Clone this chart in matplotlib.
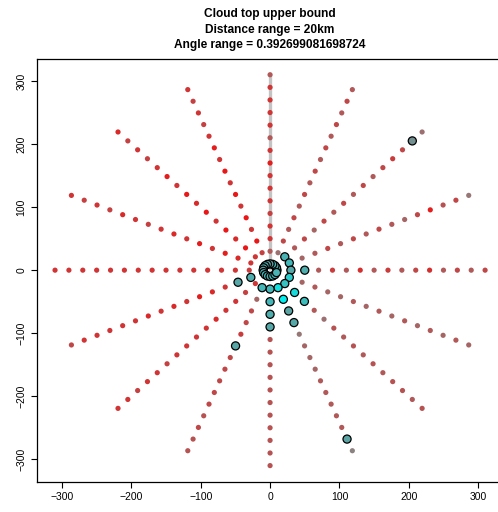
import numpy as np
import matplotlib.pyplot as plt
from matplotlib.colors import LinearSegmentedColormap

# ray directions (degrees) and sample distances (km)
ray_angles = [0, 22.5, 45, 67.5, 90, 112.5, 135, 157.5,
              180, 202.5, 225, 247.5, 270, 292.5, 315, 337.5]
distances = [10, 30, 50, 70, 90, 110, 130, 150, 170, 190, 210, 230, 250, 270, 290, 310]

# shade of each sample along a ray: 0 = red, 1 = grey (inner -> outer)
shade_000 = [0.5, 0.6, 0.6, 0.6, 0.35, 0.6, 0.25, 0.6, 0.35, 0.6, 0.45, 0.25, 0.6, 0.45, 0.6, 0.45]
shade_022 = [0.5, 0.6, 0.7, 0.6, 0.45, 0.6, 0.45, 0.6, 0.45, 0.6, 0.7, 0.45, 0.1, 0.55, 0.45, 0.85]
shade_045 = [0.5, 0.6, 0.6, 0.45, 0.7, 0.45, 0.6, 0.45, 0.6, 0.45, 0.6, 0.45, 0.35, 0.45, 0.6, 0.8]
shade_068 = [0.5, 0.8, 0.45, 0.6, 0.45, 0.6, 0.45, 0.6, 0.45, 0.6, 0.45, 0.6, 0.45, 0.6, 0.45, 0.6]
shade_090 = [0.5, 0.6, 0.3, 0.3, 0.4, 0.3, 0.3, 0.3, 0.1, 0.3, 0.6, 0.3, 0.3, 0.3, 0.3, 0.6]
shade_112 = [0.5, 0.4, 0.05, 0.3, 0.05, 0.3, 0.05, 0.3, 0.05, 0.3, 0.1, 0.3, 0.4, 0.3, 0.4, 0.3]
shade_135 = [0.5, 0.3, 0.05, 0.2, 0.05, 0.3, 0.05, 0.2, 0.05, 0.3, 0.1, 0.3, 0.4, 0.3, 0.4, 0.2]
shade_158 = [0.5, 0.3, 0.2, 0.1, 0.3, 0.1, 0.3, 0.2, 0.3, 0.4, 0.3, 0.2, 0.4, 0.3, 0.4, 0.3]
shade_180 = [0.5, 0.35, 0.3, 0.3, 0.3, 0.3, 0.3, 0.3, 0.3, 0.3, 0.3, 0.3, 0.3, 0.3, 0.3, 0.3]
shade_202 = [0.5, 0.6, 0.6, 0.3, 0.2, 0.1, 0.3, 0.2, 0.3, 0.2, 0.3, 0.3, 0.3, 0.3, 0.3, 0.45]
shade_225 = [0.5, 0.3, 0.4, 0.3, 0.3, 0.2, 0.3, 0.3, 0.3, 0.3, 0.4, 0.3, 0.3, 0.4, 0.3, 0.3]
shade_248 = [0.5, 0.6, 0.7, 0.45, 0.45, 0.35, 0.6, 0.45, 0.45, 0.45, 0.45, 0.45, 0.55, 0.45, 0.55, 0.55]
shade_270 = [0.5, 0.6, 0.6, 0.6, 0.6, 0.55, 0.55, 0.55, 0.55, 0.55, 0.55, 0.55, 0.55, 0.55, 0.55, 0.55]
shade_292 = [0.5, 0.6, 0.6, 0.6, 0.6, 0.85, 0.7, 0.7, 0.7, 0.6, 0.6, 0.6, 0.6, 0.6, 0.6, 0.95]
shade_315 = [0.5, 0.6, 0.6, 0.6, 0.6, 0.8, 0.55, 0.6, 0.55, 0.6, 0.55, 0.6, 0.55, 0.55, 0.6, 0.55]
shade_338 = [0.5, 0.6, 0.7, 0.6, 0.7, 0.7, 0.6, 0.7, 0.6, 0.7, 0.6, 0.7, 0.6, 0.7, 0.6, 0.7]

# highlighted samples (ray index, distance, shade 0 = cyan, 1 = grey)
hl_ray = [0, 1, 2, 3, 4, 5, 6, 7, 8, 9, 10, 11, 12, 13, 14, 15,
          2, 1, 0, 0, 15, 14, 13, 12, 11, 9, 9, 14, 13, 12, 14, 13, 12, 13, 12, 11, 2, 13]
hl_dist = [10, 10, 10, 10, 10, 10, 10, 10, 10, 10, 10, 10, 10, 10, 10, 10,
           30, 30, 30, 50, 30, 30, 30, 30, 30, 30, 50, 50, 50, 50, 70, 70, 70, 90, 90, 130, 290, 290]
hl_shade = [0.6, 0.5, 0.7, 0.6, 0.8, 0.7, 0.6, 0.7, 0.8, 0.6, 0.5, 0.6, 0.7, 0.4, 0.5, 0.6,
            0.6, 0.55, 0.7, 0.65, 0.35, 0.45, 0.15, 0.55, 0.55, 0.65, 0.7, 0.2, 0.0, 0.55, 0.5,
            0.75, 0.65, 0.7, 0.7, 0.7, 0.95, 0.75]

shades = [shade_000, shade_022, shade_045, shade_068, shade_090, shade_112, shade_135, shade_158,
          shade_180, shade_202, shade_225, shade_248, shade_270, shade_292, shade_315, shade_338]

red_grey = LinearSegmentedColormap.from_list('rg', ['#ee1111', '#888888'])
cyan_grey = LinearSegmentedColormap.from_list('cg', ['#00eeee', '#7a8a8a'])

plt.rcParams['font.family'] = ['Liberation Sans', 'DejaVu Sans']

fig = plt.figure(figsize=(4.98, 5.12), dpi=100)
ax = fig.add_axes([0.0743, 0.0586, 0.936, 0.8262])

# marked direction
ax.plot([0, 0], [0, distances[-1]], color='#c4c4c4', lw=2.4, zorder=1, solid_capstyle='butt')

theta = np.deg2rad(ray_angles)
for th, sh in zip(theta, shades):
    d = np.array(distances)
    ax.scatter(d * np.cos(th), d * np.sin(th), s=14, c=red_grey(np.array(sh)),
               linewidths=0, zorder=2)

hd = np.array(hl_dist)
hth = theta[np.array(hl_ray)]
ax.scatter(hd * np.cos(hth), hd * np.sin(hth), s=34, c=cyan_grey(np.array(hl_shade)),
           edgecolors='black', linewidths=0.9, zorder=3)

ax.set_xlim(-336, 336)
ax.set_ylim(-336, 335)
ax.set_xticks([-300, -200, -100, 0, 100, 200, 300])
ax.set_yticks([-300, -200, -100, 0, 100, 200, 300])
ax.tick_params(direction='out', length=4.5, width=0.8, labelsize=7.5, pad=3)
for lab in ax.get_yticklabels():
    lab.set_rotation(90)
    lab.set_va('center')
for sp in ax.spines.values():
    sp.set_linewidth(0.9)

fig.text(0.542, 0.972, 'Cloud top upper bound', ha='center', va='center',
         fontsize=8.6, fontweight='bold')
fig.text(0.542, 0.942, 'Distance range = 20km', ha='center', va='center',
         fontsize=8.6, fontweight='bold')
fig.text(0.542, 0.912, 'Angle range = 0.392699081698724', ha='center', va='center',
         fontsize=8.6, fontweight='bold')

fig.savefig('out.png', dpi=100)
